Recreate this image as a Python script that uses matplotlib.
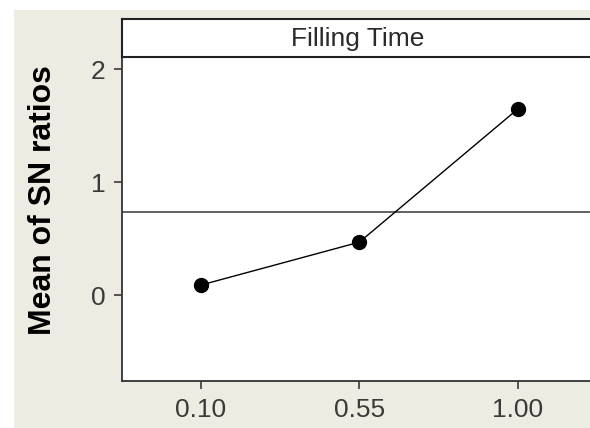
import numpy as np
import matplotlib
matplotlib.use("Agg")
import matplotlib.pyplot as plt
from matplotlib.patches import Rectangle

# main effects plot for SN ratios
levels = [0.10, 0.55, 1.00]
level_labels = ["0.10", "0.55", "1.00"]
sn_means = [0.09, 0.47, 1.65]
factor = "Filling Time"
yticks = [0, 1, 2]

BG = "#eeebe2"
W, H = 590, 428

plt.rcParams['font.family'] = ['Liberation Sans', 'DejaVu Sans']

fig = plt.figure(figsize=(W / 100, H / 100), dpi=100, facecolor=BG)
# thin white border on top and left
fig.patches.append(Rectangle((0, 1 - 10 / H), 1, 10 / H, transform=fig.transFigure,
                             facecolor="white", edgecolor="none", zorder=-10))
fig.patches.append(Rectangle((0, 0), 14 / W, 1, transform=fig.transFigure,
                             facecolor="white", edgecolor="none", zorder=-10))

left = 122 / W
bottom = 1 - 381 / H
top_main = 1 - 57 / H
top_strip = 1 - 19 / H
ax_w = 1.2  # wider than the figure, the right side is cut off
ax_px = ax_w * W

ax = fig.add_axes([left, bottom, ax_w, top_main - bottom])
strip = fig.add_axes([left, top_main, ax_w, top_strip - top_main])

x0, step = -0.124, 158.5 / 0.45
ax.set_xlim(x0, x0 + ax_px / step)
ax.set_ylim(-0.76, 2.11)

ax.plot(levels, sn_means, color="black", lw=1, marker="o", ms=10, zorder=3)
ax.axhline(np.mean(sn_means), color="#555555", lw=1.3)

for s in ["right", "top"]:
    ax.spines[s].set_visible(False)
for s in ["left", "bottom"]:
    ax.spines[s].set_linewidth(1.3)
    ax.spines[s].set_color("#333333")

ax.set_xticks(levels)
ax.set_xticklabels(level_labels)
ax.set_yticks(yticks)
ax.tick_params(direction="out", length=6, width=1.2, colors="#3a3a3a",
               labelsize=19, pad=6)
ax.set_ylabel("Mean of SN ratios", fontsize=23, fontweight="bold")
ax.yaxis.set_label_coords((58 - 122) / ax_px, (381 - 200) / (381 - 57))

strip.set_xticks([])
strip.set_yticks([])
strip.spines["right"].set_visible(False)
for s in ["left", "top", "bottom"]:
    strip.spines[s].set_linewidth(1.5)
    strip.spines[s].set_color("#222222")
strip.text((358 - 122) / ax_px, 0.48, factor, ha="center", va="center",
           fontsize=19, color="#2a2a2a", transform=strip.transAxes)

fig.savefig("out.png", dpi=100, facecolor=BG)
